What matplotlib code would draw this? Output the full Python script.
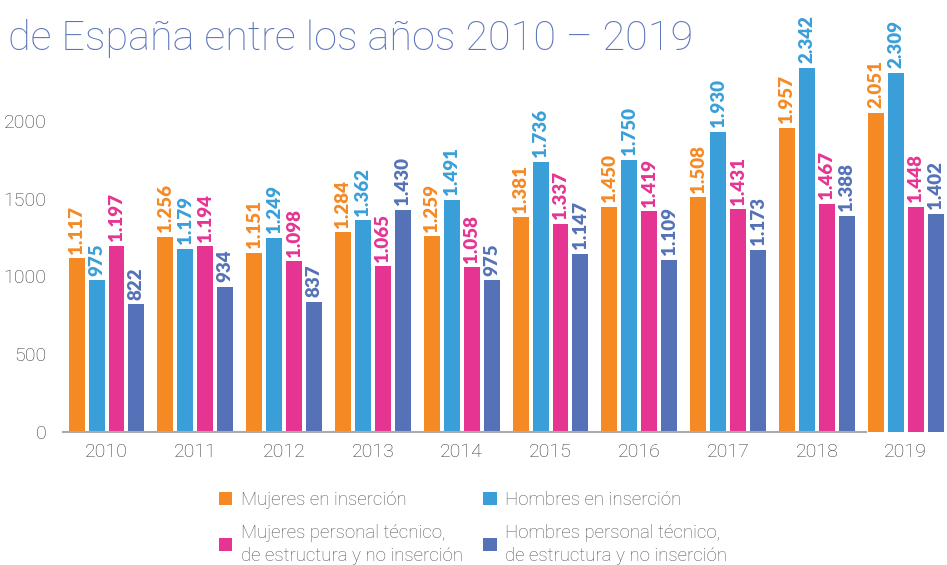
import matplotlib.pyplot as plt
import numpy as np
from matplotlib.patches import Patch

# data
years = ['2010', '2011', '2012', '2013', '2014', '2015', '2016', '2017', '2018', '2019']
mujeres_insercion = [1117, 1256, 1151, 1284, 1259, 1381, 1450, 1508, 1957, 2051]
hombres_insercion = [975, 1179, 1249, 1362, 1491, 1736, 1750, 1930, 2342, 2309]
mujeres_tecnico = [1197, 1194, 1098, 1065, 1058, 1337, 1419, 1431, 1467, 1448]
hombres_tecnico = [822, 934, 837, 1430, 975, 1147, 1109, 1173, 1388, 1402]
yticks = [0, 500, 1000, 1500, 2000]

series = [mujeres_insercion, hombres_insercion, mujeres_tecnico, hombres_tecnico]
labels = ['Mujeres en inserción', 'Hombres en inserción',
          'Mujeres personal técnico,\nde estructura y no inserción',
          'Hombres personal técnico,\nde estructura y no inserción']
colors = ['#F58A25', '#3A9FD8', '#E63493', '#5572B8']

plt.rcParams['font.family'] = ['Lato', 'DejaVu Sans']
light = {'family': ['Roboto', 'DejaVu Sans'], 'weight': 'light'}

fig = plt.figure(figsize=(9.47, 5.65), dpi=100)
# axes: left 63px, right 947px, bottom at 432px, top at figure top
ax = fig.add_axes([63/947, 1 - 432/565, 1 - 63/947, 432/565])

x = np.arange(len(years))
pitch = 0.225
width = 0.18
for i, (vals, col) in enumerate(zip(series, colors)):
    pos = x + (i - 1.5) * pitch
    ax.bar(pos, vals, width=width, color=col, zorder=2)
    for p, v in zip(pos, vals):
        ax.text(p, v + 30, f'{v:,}'.replace(',', '.'), rotation=90,
                ha='center', va='bottom', color=col, fontsize=13.5,
                fontweight='heavy')

ax.set_xlim(-0.49, 9.465)
ax.set_ylim(0, 2778)
ax.set_yticks(yticks)
ax.set_yticklabels([str(t) for t in yticks], fontdict=dict(light, size=14))
ax.set_xticks(x)
ax.set_xticklabels(years, fontdict=dict(light, size=14))
ax.tick_params(axis='both', length=0, labelcolor='#3a3a3a')
ax.tick_params(axis='y', pad=12)
ax.tick_params(axis='x', pad=8)

for s in ['top', 'right', 'left']:
    ax.spines[s].set_visible(False)
ax.spines['bottom'].set_color('#aaaaaa')
ax.spines['bottom'].set_linewidth(1.5)
ax.spines['bottom'].set_bounds(-0.49, 8.55)
ax.patch.set_alpha(0)

fig.text(8/947, 1 - 50/565, 'de España entre los años 2010 – 2019',
         fontsize=29.8, color='#5B75BB', va='baseline', ha='left', **light)

# matplotlib fills legend columns first -> reorder so rows read left to right
order = [0, 2, 1, 3]
handles = [Patch(facecolor=colors[k], edgecolor='none') for k in order]
leg = fig.legend(handles, [labels[k] for k in order], ncol=2, loc='upper left',
                 bbox_to_anchor=(219/947, 1 - 491/565), frameon=False,
                 prop=dict(light, size=13.4),
                 labelcolor='#555555', handlelength=0.72,
                 handleheight=0.72, handletextpad=0.45, columnspacing=1.1,
                 labelspacing=0.8, borderaxespad=0, borderpad=0)
for t in leg.get_texts():
    t.set_linespacing(1.35)

fig.savefig('out.png', dpi=100)
